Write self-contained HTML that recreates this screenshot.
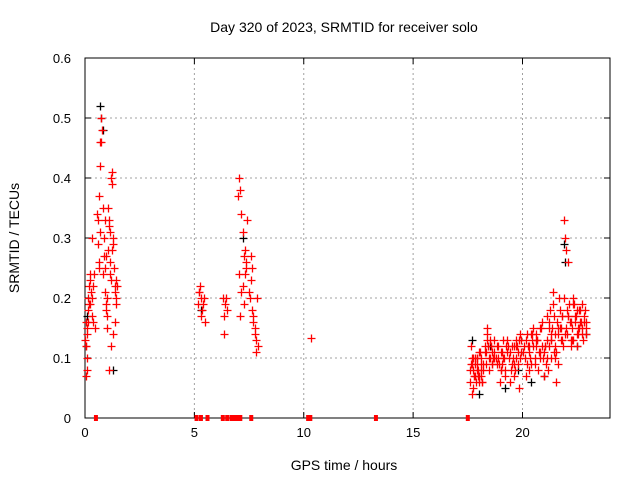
<!DOCTYPE html>
<html><head><meta charset="utf-8"><style>
body{margin:0;background:#fff}
svg{display:block;font-family:"Liberation Sans",sans-serif}
</style></head><body>
<svg id="chart" width="640" height="480">
<text x="344" y="32" font-size="14" text-anchor="middle">Day 320 of 2023, SRMTID for receiver solo</text>
<g id="grid"></g>
<g id="axes"></g>
<g id="black"></g>
<g id="red"></g>
<text x="344" y="470" font-size="14" text-anchor="middle">GPS time / hours</text>
<text transform="translate(19,238) rotate(-90)" font-size="14" text-anchor="middle">SRMTID / TECUs</text>
</svg>
<script>
const xTicks=[0,5,10,15,20];
const yTicks=[0,0.1,0.2,0.3,0.4,0.5,0.6];
const yTickLabels=["0","0.1","0.2","0.3","0.4","0.5","0.6"];
const redT=[0.02,0.04,0.05,0.06,0.08,0.1,0.12,0.14,0.15,0.18,0.2,0.22,0.25,0.28,0.3,0.32,0.35,0.38,0.4,0.45,
0.55,0.58,0.6,0.62,0.65,0.68,0.7,0.72,0.75,0.78,0.8,0.82,0.85,0.88,0.9,0.92,0.95,0.98,1.0,1.02,
1.05,1.08,1.1,1.12,1.15,1.18,1.2,1.22,1.25,1.28,1.3,1.32,1.35,1.38,1.4,1.42,1.45,1.3,1.2,1.1,
0.03,0.07,0.09,0.24,0.33,0.62,0.7,0.9,1.0,1.15,1.25,1.35,1.4,1.05,0.95,
5.15,5.2,5.25,5.3,5.35,5.4,5.45,5.5,5.3,5.2,6.3,6.35,6.4,6.45,6.5,6.35,
7.0,7.05,7.1,7.15,7.2,7.25,7.3,7.35,7.4,7.1,7.2,7.3,7.05,7.15,7.25,7.35,
7.5,7.55,7.6,7.65,7.7,7.75,7.8,7.85,7.9,7.6,7.7,7.8,7.65,7.75,10.35,
17.6,17.7,17.8,17.9,18.0,18.1,18.2,17.65,17.75,17.85,17.95,18.05,18.15,17.7,17.9,18.1,
18.3,18.4,18.5,18.6,18.7,18.35,18.45,18.55,18.65,18.4,18.6,
18.8,18.9,19.0,19.1,19.2,19.3,18.85,18.95,19.05,19.15,19.25,19.0,
19.4,19.5,19.6,19.7,19.8,19.9,20.0,19.45,19.55,19.65,19.75,19.85,19.95,19.6,19.8,
20.1,20.2,20.3,20.4,20.5,20.6,20.7,20.8,20.9,20.15,20.25,20.35,20.45,20.55,20.65,20.75,20.85,20.95,20.3,20.6,
21.0,21.1,21.2,21.3,21.4,21.5,21.6,21.05,21.15,21.25,21.35,21.45,21.55,21.65,21.1,21.3,21.5,21.2,21.4,21.6,
21.7,21.8,21.9,22.0,22.1,22.2,22.3,22.4,22.5,22.6,22.7,22.8,22.9,21.75,21.85,21.95,22.05,22.15,22.25,22.35,22.45,22.55,22.65,22.75,22.85,
21.9,21.95,22.0,22.1,22.3,22.5,22.7,21.8,22.2,22.6,
17.62,17.68,17.72,17.78,17.82,17.88,17.92,17.98,18.02,18.08,18.12,18.18,17.66,17.84,18.0,18.16,17.74,17.94,
18.28,18.38,18.48,18.58,18.68,18.32,18.42,18.52,18.62,18.72,
18.82,18.92,19.02,19.12,19.22,19.32,18.88,19.08,19.28,
19.42,19.52,19.62,19.72,19.82,19.92,19.48,19.68,19.88,
20.05,20.18,20.28,20.38,20.48,20.58,20.68,20.78,20.88,20.98,20.22,20.42,20.62,20.82,
21.02,21.12,21.22,21.32,21.42,21.52,21.62,21.08,21.28,21.48,21.58,
21.72,21.82,22.02,22.12,22.22,22.32,22.42,22.52,22.62,22.72,22.82,22.92,21.78,22.08,22.28,22.48,22.68,22.88];
const redV=[0.13,0.12,0.07,0.16,0.1,0.14,0.16,0.18,0.2,0.19,0.22,0.23,0.24,0.21,0.2,0.17,0.22,0.16,0.24,0.15,
0.34,0.33,0.29,0.26,0.37,0.42,0.46,0.46,0.5,0.48,0.35,0.24,0.27,0.3,0.25,0.21,0.18,0.19,0.15,0.17,
0.28,0.32,0.33,0.31,0.26,0.23,0.4,0.41,0.39,0.3,0.29,0.25,0.22,0.21,0.23,0.19,0.22,0.14,0.12,0.08,
0.12,0.08,0.15,0.19,0.3,0.25,0.31,0.33,0.2,0.24,0.28,0.16,0.2,0.35,0.27,
0.19,0.21,0.22,0.2,0.18,0.19,0.2,0.16,0.17,0.21,0.2,0.14,0.19,0.2,0.18,0.17,
0.37,0.4,0.38,0.34,0.31,0.27,0.24,0.25,0.33,0.17,0.22,0.28,0.24,0.21,0.19,0.26,
0.21,0.2,0.27,0.25,0.17,0.15,0.13,0.2,0.12,0.23,0.16,0.11,0.18,0.14,0.133,
0.08,0.09,0.07,0.1,0.06,0.08,0.09,0.12,0.05,0.1,0.07,0.11,0.06,0.04,0.09,0.07,
0.12,0.14,0.1,0.09,0.13,0.11,0.08,0.12,0.1,0.15,0.09,
0.1,0.12,0.08,0.13,0.07,0.11,0.09,0.06,0.11,0.1,0.12,0.08,
0.1,0.12,0.07,0.13,0.09,0.14,0.11,0.06,0.1,0.08,0.12,0.05,0.13,0.09,0.11,
0.1,0.14,0.12,0.09,0.15,0.13,0.08,0.11,0.16,0.07,0.12,0.1,0.14,0.09,0.13,0.11,0.15,0.1,0.08,0.12,
0.07,0.13,0.16,0.1,0.21,0.14,0.09,0.12,0.08,0.18,0.15,0.11,0.06,0.2,0.17,0.13,0.1,0.12,0.19,0.14,
0.18,0.13,0.2,0.15,0.17,0.12,0.19,0.16,0.14,0.18,0.15,0.17,0.16,0.15,0.12,0.14,0.18,0.16,0.13,0.19,0.17,0.14,0.16,0.13,0.18,
0.33,0.3,0.28,0.26,0.2,0.12,0.19,0.17,0.13,0.15,
0.06,0.1,0.08,0.07,0.09,0.06,0.1,0.08,0.07,0.09,0.1,0.08,0.09,0.07,0.11,0.06,0.1,0.08,
0.11,0.13,0.1,0.12,0.11,0.09,0.12,0.13,0.11,0.1,
0.12,0.09,0.11,0.1,0.08,0.12,0.1,0.09,0.13,
0.11,0.09,0.12,0.1,0.13,0.11,0.08,0.12,0.1,
0.12,0.13,0.11,0.14,0.12,0.1,0.13,0.15,0.12,0.11,0.09,0.13,0.14,0.1,
0.12,0.1,0.15,0.13,0.17,0.11,0.15,0.09,0.14,0.12,0.16,
0.15,0.17,0.14,0.19,0.16,0.13,0.17,0.15,0.18,0.14,0.16,0.15,0.13,0.17,0.15,0.18,0.16,0.14];
const blackT=[0.1,0.7,0.75,0.8,1.3,5.3,7.2,17.7,18.0,18.5,19.2,19.8,20.4,21.0,21.9,21.95,22.5,22.9];
const blackV=[0.17,0.52,0.5,0.48,0.08,0.18,0.3,0.13,0.04,0.12,0.05,0.08,0.06,0.07,0.29,0.26,0.12,0.14];
const zeroT=[0.5,5.1,5.3,5.6,6.3,6.5,6.7,6.85,6.95,7.1,7.6,10.2,10.3,13.3,17.5];

const L=85,R=610,T=58,B=418,XMAX=24,YMAX=0.6;
const xs=v=>L+(v/XMAX)*(R-L), ys=v=>B-(v/YMAX)*(B-T);
const NS="http://www.w3.org/2000/svg";
function mk(tag,attrs,parent){const e=document.createElementNS(NS,tag);for(const k in attrs)e.setAttribute(k,attrs[k]);parent.appendChild(e);return e;}
const grid=document.getElementById('grid'),axes=document.getElementById('axes');
xTicks.forEach((t,i)=>{
  const x=xs(t);
  if(t>0){const g=mk('line',{x1:x,y1:T,x2:x,y2:B,stroke:'#a0a0a0','stroke-dasharray':'2,3'},grid);
  
  }
  const tk=mk('line',{x1:x,y1:B,x2:x,y2:B-6,stroke:'#000'},axes);
  
  
  const tk2=mk('line',{x1:x,y1:T,x2:x,y2:T+6,stroke:'#000'},axes);
  
  
  const lb=mk('text',{x:x,y:B+19,'font-size':13,'text-anchor':'middle'},axes);lb.textContent=String(t);
  
  
});
yTicks.forEach((t,i)=>{
  const y=ys(t);
  if(t>0&&t<YMAX){const g=mk('line',{x1:L,y1:y,x2:R,y2:y,stroke:'#a0a0a0','stroke-dasharray':'2,3'},grid);
  
  }
  const tk=mk('line',{x1:L,y1:y,x2:L+6,y2:y,stroke:'#000'},axes);
  
  
  const tk2=mk('line',{x1:R,y1:y,x2:R-6,y2:y,stroke:'#000'},axes);
  
  
  const lb=mk('text',{x:L-14,y:y+5,'font-size':13,'text-anchor':'end'},axes);lb.textContent=yTickLabels[i];
  
  
});
const frame=mk('rect',{x:L,y:T,width:R-L,height:B-T,fill:'none',stroke:'#000'},axes);


function plus(g,t,v,col,name){
  const x=Math.round(xs(t))+0.5,y=Math.round(ys(v))+0.5;
  const p=mk('path',{d:`M${x-4},${y}h8M${x},${y-4}v8`,stroke:col,'stroke-width':1.3,fill:'none'},g);
  
  
}
const bg=document.getElementById('black'),rg=document.getElementById('red');
blackT.forEach((t,i)=>plus(bg,t,blackV[i],'#000','black-point'));
redT.forEach((t,i)=>plus(rg,t,redV[i],'#f00','red-point'));
zeroT.forEach(t=>{
  const r=mk('rect',{x:xs(t)-2,y:B-3,width:4,height:6,fill:'#f00'},rg);
  
  
});
</script>
</body></html>
